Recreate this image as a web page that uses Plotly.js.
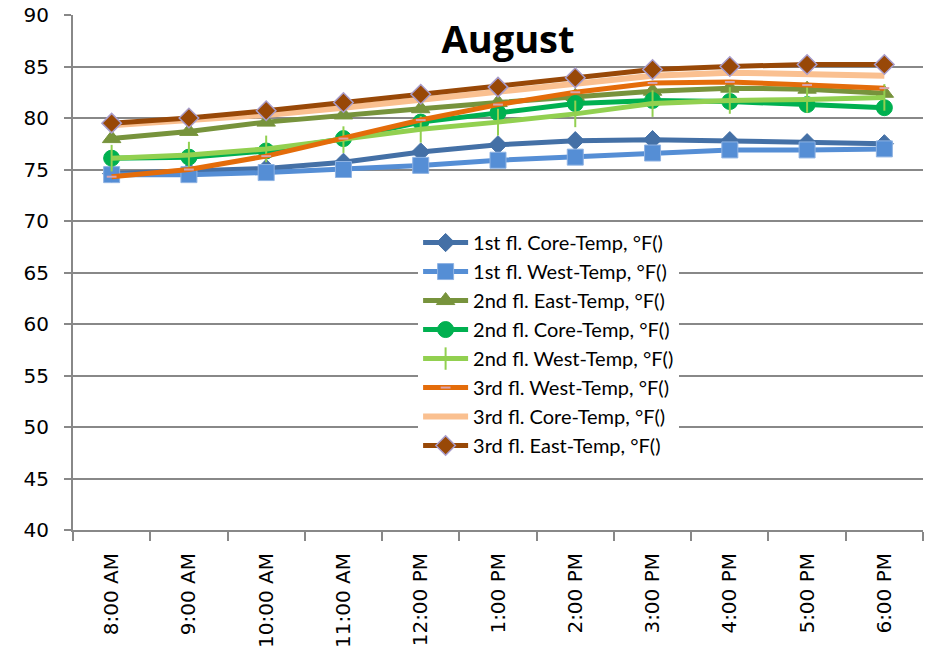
<!DOCTYPE html>
<html>
<head>
<meta charset="utf-8">
<script src="https://cdn.plot.ly/plotly-3.0.1.min.js"></script>
<style>
  html, body { margin: 0; padding: 0; background: #fff; }
  #chart { width: 933px; height: 656px; }
</style>
</head>
<body>
<div id="chart"></div>
<script>
// Hourly readings for August, one series per floor / zone
const hours = ["8:00 AM", "9:00 AM", "10:00 AM", "11:00 AM", "12:00 PM", "1:00 PM",
               "2:00 PM", "3:00 PM", "4:00 PM", "5:00 PM", "6:00 PM"];

const core1 = [74.6, 74.8, 75.1, 75.7, 76.7, 77.4, 77.8, 77.9, 77.8, 77.6, 77.5];
const west1 = [74.5, 74.5, 74.7, 75.0, 75.4, 75.9, 76.2, 76.6, 76.9, 76.9, 77.0];
const east2 = [78.0, 78.7, 79.6, 80.3, 80.9, 81.5, 82.1, 82.6, 82.9, 82.8, 82.4];
const core2 = [76.1, 76.2, 76.8, 78.0, 79.6, 80.5, 81.4, 81.7, 81.6, 81.3, 81.0];
const west2 = [76.1, 76.4, 77.0, 77.9, 78.9, 79.6, 80.4, 81.4, 81.7, 81.8, 82.0];
const west3 = [74.3, 75.0, 76.3, 78.0, 79.8, 81.3, 82.5, 83.4, 83.5, 83.2, 82.9];
const core3 = [79.3, 79.8, 80.3, 81.0, 81.8, 82.5, 83.4, 84.1, 84.4, 84.3, 84.1];
const east3 = [79.5, 80.0, 80.7, 81.5, 82.3, 83.0, 83.9, 84.7, 85.0, 85.2, 85.2];

const seriesNames = [
  "1st fl. Core-Temp, \u00b0F()",
  "1st fl. West-Temp, \u00b0F()",
  "2nd fl. East-Temp, \u00b0F()",
  "2nd fl. Core-Temp, \u00b0F()",
  "2nd fl. West-Temp, \u00b0F()",
  "3rd fl. West-Temp, \u00b0F()",
  "3rd fl. Core-Temp, \u00b0F()",
  "3rd fl. East-Temp, \u00b0F()"
];

function series(name, y, color, width, marker) {
  const t = {
    type: "scatter",
    mode: marker ? "lines+markers" : "lines",
    name: name,
    x: hours,
    y: y,
    line: { color: color, width: width }
  };
  if (marker) t.marker = marker;
  return t;
}

const traces = [
  series(seriesNames[0], core1, "#4470a6", 5,
    { symbol: "diamond", size: 14, color: "#4470a6", line: { color: "#4470a6", width: 1 } }),
  series(seriesNames[1], west1, "#558ed5", 5,
    { symbol: "square", size: 16, color: "#558ed5", line: { color: "#8fb3e3", width: 1 } }),
  series(seriesNames[2], east2, "#77933c", 5,
    { symbol: "triangle-up", size: 16, color: "#77933c", line: { color: "#77933c", width: 1 } }),
  series(seriesNames[3], core2, "#00b050", 5,
    { symbol: "circle", size: 16, color: "#00b050", line: { color: "#00b050", width: 1 } }),
  series(seriesNames[4], west2, "#92d050", 5,
    { symbol: "line-ns-open", size: 19, color: "#92d050", line: { color: "#92d050", width: 2 } }),
  series(seriesNames[5], west3, "#e46c0a", 5,
    { symbol: "line-ew-open", size: 7, color: "#d9a3ad", line: { color: "#d9a3ad", width: 2 } }),
  series(seriesNames[6], core3, "#fac090", 6, null),
  series(seriesNames[7], east3, "#984807", 5,
    { symbol: "diamond", size: 15, color: "#984807", line: { color: "#a89ccb", width: 1.5 } })
];

const gridGray = "#888888";
const W = 933, H = 656;
const margin = { l: 73, r: 10, t: 15, b: 126 };

const layout = {
  width: W,
  height: H,
  margin: margin,
  paper_bgcolor: "#ffffff",
  plot_bgcolor: "#ffffff",
  showlegend: true,
  title: {
    text: "<b>August</b>",
    font: { family: "Open Sans, sans-serif", size: 38, color: "#000000" },
    xref: "paper",
    x: (508 - margin.l) / (W - margin.l - margin.r),
    xanchor: "center",
    yref: "container",
    y: 1 - 40 / H,
    yanchor: "middle"
  },
  xaxis: {
    type: "category",
    categoryorder: "array",
    categoryarray: hours,
    range: [-0.5, 10.5],
    showgrid: false,
    zeroline: false,
    showline: true,
    linecolor: gridGray,
    linewidth: 2,
    ticks: "outside",
    tickson: "boundaries",
    ticklen: 9,
    tickwidth: 2,
    tickcolor: gridGray,
    tickangle: -90,
    ticklabelstandoff: 13,
    tickfont: { family: "DejaVu Sans, sans-serif", size: 20, color: "#000000" }
  },
  yaxis: {
    range: [40, 90],
    dtick: 5,
    tick0: 40,
    showgrid: true,
    gridcolor: gridGray,
    gridwidth: 2,
    zeroline: false,
    showline: true,
    linecolor: gridGray,
    linewidth: 2,
    ticks: "outside",
    ticklen: 7,
    tickwidth: 2,
    tickcolor: gridGray,
    ticklabelstandoff: 11,
    tickfont: { family: "DejaVu Sans, sans-serif", size: 20, color: "#000000" }
  },
  legend: {
    x: 0.406, xanchor: "left",
    y: 0.596, yanchor: "top",
    bgcolor: "#ffffff",
    borderwidth: 0,
    itemwidth: 45,
    font: { family: "Lato, sans-serif", size: 20, color: "#000000" },
    tracegroupgap: 0
  }
};

Plotly.newPlot("chart", traces, layout, { displayModeBar: false, staticPlot: true });
</script>
</body>
</html>
